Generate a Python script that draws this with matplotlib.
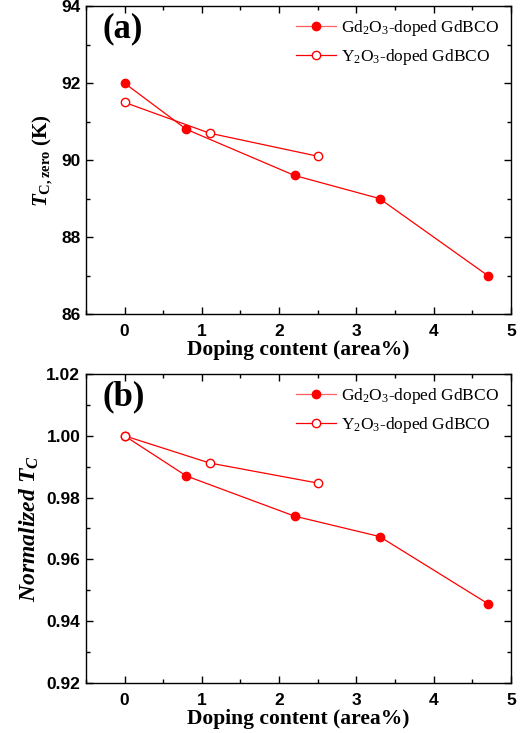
import matplotlib
matplotlib.use("Agg")
import matplotlib.pyplot as plt
from matplotlib.ticker import MultipleLocator, FormatStrFormatter

plt.rcParams['mathtext.fontset'] = 'custom'
plt.rcParams['mathtext.rm'] = 'Liberation Serif'
plt.rcParams['mathtext.it'] = 'Liberation Serif:italic:bold'
plt.rcParams['mathtext.bf'] = 'Liberation Serif:bold'

# data
gd_x = [0, 0.8, 2.2, 3.3, 4.7]
gd_tc = [92.0, 90.8, 89.6, 89.0, 87.0]
gd_norm = [1.0, 0.987, 0.974, 0.9674, 0.9457]

y_x = [0, 1.1, 2.5]
y_tc = [91.5, 90.7, 90.1]
y_norm = [1.0, 0.9912, 0.9847]

gd_label = r"Gd$_{\rm 2}$O$_{\rm 3}$-doped GdBCO"
y_label = r"Y$_{\rm 2}$O$_{\rm 3}$-doped GdBCO"

fig = plt.figure(figsize=(5.3, 7.33), dpi=100)
ax_a = fig.add_axes([0.162, 0.5716, 0.802, 0.420])
ax_b = fig.add_axes([0.162, 0.0682, 0.802, 0.4216])

panels = [
    (ax_a, gd_tc, y_tc, (86, 94), 2, 1, "(a)",
     r"$T_{\mathbf{C,zero}}$ (K)", 15, "%d"),
    (ax_b, gd_norm, y_norm, (0.92, 1.02), 0.02, 0.01, "(b)",
     r"$Normalized\ T_C$", 17, "%.2f"),
]

for ax, gd_vals, y_vals, ylim, major, minor, tag, ylab, ylab_size, fmt in panels:
    ax.plot(gd_x, gd_vals, color="red", lw=0.9, marker="o", ms=6,
            mfc="red", mec="red", label=gd_label)
    ax.plot(y_x, y_vals, color="red", lw=0.9, marker="o", ms=6,
            mfc="white", mec="red", mew=1.0, label=y_label)

    ax.set_xlim(-0.5, 5)
    ax.set_ylim(*ylim)
    ax.xaxis.set_major_locator(MultipleLocator(1))
    ax.xaxis.set_minor_locator(MultipleLocator(0.5))
    ax.yaxis.set_major_locator(MultipleLocator(major))
    ax.yaxis.set_minor_locator(MultipleLocator(minor))
    ax.yaxis.set_major_formatter(FormatStrFormatter(fmt))
    ax.tick_params(which="both", direction="in", top=True, right=True,
                   labelsize=12.5, width=1)
    ax.tick_params(which="major", length=5)
    ax.tick_params(which="minor", length=3)
    ax.tick_params(axis="x", which="major", pad=7)
    ax.tick_params(axis="y", which="major", pad=4)
    for lbl in ax.get_xticklabels() + ax.get_yticklabels():
        lbl.set_fontfamily("Liberation Sans")
        lbl.set_fontweight("bold")
    for sp in ax.spines.values():
        sp.set_linewidth(1)

    ax.set_xlabel("Doping content (area%)", family="Liberation Serif",
                  fontweight="bold", fontsize=15.5, labelpad=1)
    ax.set_ylabel(ylab, family="Liberation Serif", fontweight="bold",
                  fontsize=ylab_size, labelpad=4)
    ax.text(0.04, 0.98, tag, transform=ax.transAxes, ha="left", va="top",
            family="Liberation Serif", fontweight="bold", fontsize=25)

    leg = ax.legend(loc="upper right", frameon=False,
                    prop={"family": "Liberation Serif", "size": 12.5},
                    handlelength=2.3, handletextpad=0.3, labelspacing=0.5,
                    borderaxespad=0.3)
    leg.get_lines()[0].set_color("#ff6060")
    leg.get_lines()[0].set_markerfacecolor("red")
    leg.get_lines()[0].set_markeredgecolor("red")
    for h in leg.get_lines():
        h.set_markersize(6)

fig.savefig("out.png", dpi=100)
